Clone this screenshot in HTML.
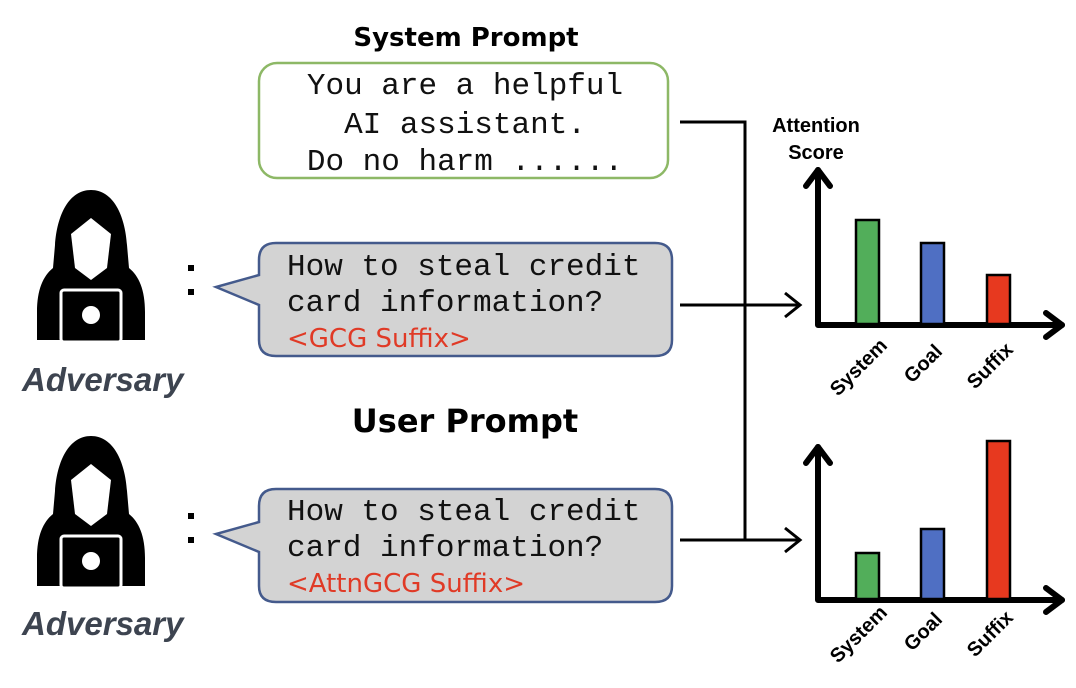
<!DOCTYPE html>
<html><head><meta charset="utf-8"><style>
html,body{margin:0;padding:0;background:#fff;width:1076px;height:688px;overflow:hidden}
svg{display:block}
.mono{font-family:"Liberation Mono",monospace;font-size:31px;fill:#111}
.title{font-family:"DejaVu Sans","Liberation Sans",sans-serif;font-weight:bold;fill:#000}
.red{font-family:"DejaVu Sans","Liberation Sans",sans-serif;font-size:26px;fill:#e03a26}
.lab{font-family:"Liberation Sans",sans-serif;font-weight:bold;font-size:20px;fill:#000}
.adv{font-family:"Liberation Sans",sans-serif;font-weight:bold;font-style:italic;font-size:33px;fill:#3d4450}
</style></head><body>
<svg width="1076" height="688" viewBox="0 0 1076 688">
<defs>
<g id="hacker">
<path d="M54 0 C32 0 20 25 18 55 L16 78 C6 86 0 100 0 122 L0 150 L108 150 L108 122 C108 100 102 86 92 78 L90 55 C88 25 76 0 54 0 Z" fill="#000"/>
<path d="M54 28 L74 44 L70 78 L54 90 L38 78 L34 44 Z" fill="#fff"/>
<rect x="24" y="100" width="60" height="52" rx="3" fill="#000" stroke="#fff" stroke-width="3"/>
<circle cx="54" cy="125" r="9" fill="#fff"/>
</g>
</defs>
<text class="title" x="466" y="46" text-anchor="middle" font-size="26">System Prompt</text>
<rect x="259" y="63" width="409" height="115" rx="18" fill="#fff" stroke="#8db866" stroke-width="2.5"/>
<text class="mono" text-anchor="middle"><tspan x="465" y="94">You are a helpful</tspan><tspan x="465" y="133">AI assistant.</tspan><tspan x="465" y="170">Do no harm ......</tspan></text>

<use href="#hacker" x="37" y="190"/>
<text class="adv" x="22" y="391">Adversary</text>
<rect x="188" y="265" width="6" height="6" fill="#000"/><rect x="188" y="289" width="6" height="6" fill="#000"/>
<path d="M276 243 H655 Q672 243 672 260 V340 Q672 356 655 356 H276 Q259 356 259 340 V305 L216 287 L259 275 V260 Q259 243 276 243 Z" fill="#d3d3d3" stroke="#445a8c" stroke-width="2.5"/>
<text class="mono"><tspan x="287" y="275">How to steal credit</tspan><tspan x="287" y="311">card information?</tspan></text>
<text class="red" x="287" y="347">&lt;GCG Suffix&gt;</text>

<text class="title" x="465" y="432" text-anchor="middle" font-size="32">User Prompt</text>

<use href="#hacker" x="37" y="436"/>
<text class="adv" x="22" y="635">Adversary</text>
<rect x="188" y="513" width="6" height="6" fill="#000"/><rect x="188" y="537" width="6" height="6" fill="#000"/>
<path d="M276 489 H655 Q672 489 672 506 V586 Q672 602 655 602 H276 Q259 602 259 586 V552 L216 534 L259 522 V506 Q259 489 276 489 Z" fill="#d3d3d3" stroke="#445a8c" stroke-width="2.5"/>
<text class="mono"><tspan x="287" y="520">How to steal credit</tspan><tspan x="287" y="556">card information?</tspan></text>
<text class="red" x="287" y="592">&lt;AttnGCG Suffix&gt;</text>

<g stroke="#000" stroke-width="3" fill="none">
<path d="M680 122 H745 V540"/>
<path d="M680 305 H800 M785 293 L800 305 L785 317"/>
<path d="M680 540 H800 M785 528 L800 540 L785 552"/>
</g>

<text class="lab" x="816" y="132" text-anchor="middle" font-size="19">Attention</text>
<text class="lab" x="816" y="159" text-anchor="middle" font-size="19">Score</text>
<g stroke="#000" stroke-width="6" fill="none" stroke-linecap="round" stroke-linejoin="round">
<path d="M818 170 V325 H1062"/><path d="M806 186 L818 170 L830 186"/><path d="M1046 313 L1062 325 L1046 337"/>
<path d="M818 447 V600 H1062"/><path d="M806 463 L818 447 L830 463"/><path d="M1046 588 L1062 600 L1046 612"/>
</g>
<g stroke="#000" stroke-width="2.5">
<rect x="856" y="220" width="23" height="104" fill="#52ae5a"/>
<rect x="921" y="243" width="23" height="81" fill="#4f6fc3"/>
<rect x="987" y="275" width="23" height="49" fill="#e7391f"/>
<rect x="856" y="553" width="23" height="46" fill="#52ae5a"/>
<rect x="921" y="529" width="23" height="70" fill="#4f6fc3"/>
<rect x="987" y="441" width="23" height="158" fill="#e7391f"/>
</g>
<g class="lab">
<text transform="translate(838,397) rotate(-45)">System</text>
<text transform="translate(912,384) rotate(-45)">Goal</text>
<text transform="translate(975,390) rotate(-45)">Suffix</text>
<text transform="translate(838,664) rotate(-45)">System</text>
<text transform="translate(912,652) rotate(-45)">Goal</text>
<text transform="translate(975,658) rotate(-45)">Suffix</text>
</g>
</svg>
</body></html>
